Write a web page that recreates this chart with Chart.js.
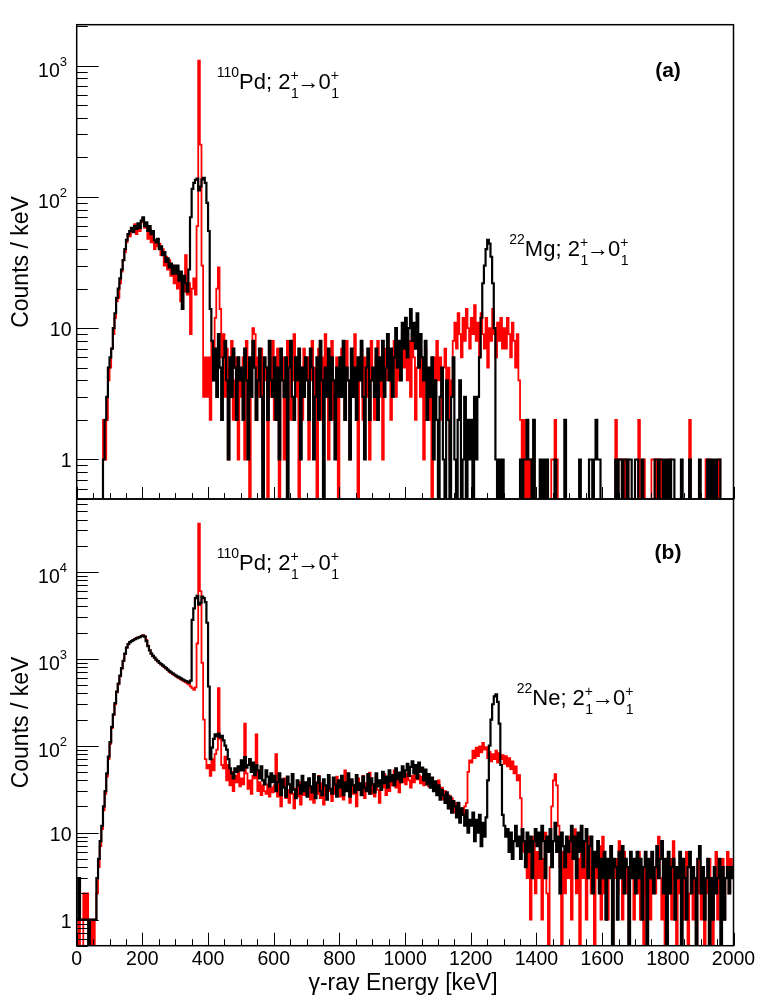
<!DOCTYPE html>
<html>
<head>
<meta charset="utf-8">
<script src="https://cdn.jsdelivr.net/npm/chart.js@4.4.1/dist/chart.umd.min.js"></script>
<style>
  body { margin: 0; background: #fff; }
  #wrap { position: relative; width: 772px; height: 1000px; }
  canvas { position: absolute; left: 0; }
  #panelA { top: 0; }
  #panelB { top: 490px; }
</style>
</head>
<body>
<div id="wrap">
  <canvas id="panelA" width="772" height="500"></canvas>
  <canvas id="panelB" width="772" height="510"></canvas>
</div>
<script>
// binning of the spectra (keV)
const binWidth = 5;
const eMin = 0;
const eMax = 2000;

// axis ticks
const xMajorTicks = [0, 200, 400, 600, 800, 1000, 1200, 1400, 1600, 1800, 2000];
const xMinorStep = 50;
const topDecades = [1, 10, 100, 1000];
const botDecades = [1, 10, 100, 1000, 10000];

// (a) top panel, counts / keV, one row = 100 keV
const topBlack = [
  0,0,0,0,0,0,0,0,0,0,0,0,0,0,0,0,1,2,3,5,
  6,7,10,13,17,20,24,28,33,40,47,52,55,58,54,60,57,63,58,66,
  70,60,64,55,60,52,55,47,45,48,40,42,36,38,32,34,29,31,26,30,
  26,30,23,27,14,25,22,19,28,70,115,128,135,138,112,120,136,140,128,90,
  55,14,8,4,7,3,9,5,2,6,8,4,1,6,3,7,5,2,6,4,
  5,2,7,4,1,6,3,8,5,2,4,7,3,0,6,5,2,8,4,3,
  6,2,5,1,7,4,3,6,0,5,8,3,2,6,4,7,1,5,3,6,
  4,2,7,5,1,3,6,2,8,4,0,5,3,7,2,6,4,1,5,3,
  6,3,8,2,5,4,1,7,3,5,2,6,4,8,3,1,5,7,2,4,
  5,3,7,2,6,4,8,3,5,9,4,7,3,6,10,5,8,4,11,7,
  12,6,10,14,8,11,7,13,5,9,6,4,8,2,5,3,6,1,4,2,
  0,3,5,1,0,4,2,0,3,6,1,0,2,4,0,1,3,0,2,1,
  2,0,3,1,3,6,12,22,30,40,47,44,35,22,10,1,0,1,0,1,
  0,0,0,0,0,0,0,0,0,0,1,0,1,1,2,1,1,0,2,0,
  0,0,1,0,1,0,1,0,0,0,0,1,0,0,0,0,0,2,0,0,
  0,0,0,0,0,0,1,0,0,0,0,0,1,1,0,1,2,1,1,0,
  0,0,0,0,0,0,0,0,1,0,1,1,0,1,1,0,1,1,0,0,
  1,1,0,0,1,0,0,0,0,0,0,0,1,1,0,1,1,0,1,0,
  1,0,1,1,0,0,0,0,1,0,0,0,0,1,0,0,0,0,0,1,
  0,0,0,0,1,0,1,0,1,0,1,1,0,0,0,0,0,0,0,0
];
const topRed = [
  0,0,0,0,0,0,0,0,0,0,0,0,0,0,0,0,2,1,2,4,
  5,7,9,12,16,17,22,27,33,38,45,52,50,58,56,62,52,60,55,64,
  68,58,62,48,57,45,52,40,47,42,44,36,40,30,35,28,33,25,30,22,
  27,20,25,16,23,19,36,18,22,9,20,24,18,60,1090,250,30,3,6,3,
  6,2,8,4,12,20,29,14,6,9,3,7,1,5,8,2,4,6,1,5,
  3,6,1,8,4,0,5,10,9,2,6,3,7,1,4,5,0,6,3,8,
  2,5,7,0,4,6,1,3,8,5,2,4,9,3,6,0,5,2,7,4,
  6,1,4,8,3,5,0,7,2,6,4,9,3,1,5,8,2,4,6,0,
  3,7,5,2,8,4,1,6,3,9,5,0,4,7,2,6,3,5,1,8,
  4,2,6,8,3,5,1,7,4,9,6,2,5,8,3,7,4,6,9,5,
  7,4,8,3,9,6,2,5,8,3,6,1,7,4,2,5,0,6,3,8,
  4,6,2,5,7,3,5,1,4,8,11,7,13,9,6,12,8,14,10,7,
  12,9,15,8,11,6,13,9,7,12,5,10,8,14,9,6,11,8,12,7,
  10,7,12,9,6,11,8,5,9,4,2,1,2,0,1,0,1,0,0,0,
  0,0,0,0,0,0,0,0,0,1,1,2,1,0,0,0,0,0,0,0,
  0,0,0,0,0,0,0,0,0,0,0,0,0,0,0,0,0,0,0,0,
  0,0,0,0,0,0,0,0,2,0,1,1,0,1,0,1,0,0,0,0,
  0,0,2,0,0,1,0,0,0,0,1,1,0,1,0,1,0,0,0,0,
  0,1,0,0,0,0,0,0,0,0,0,0,0,2,0,0,0,0,0,0,
  0,0,0,1,1,1,0,0,0,0,0,1,0,0,0,0,0,0,0,0
];

// (b) bottom panel, counts / keV, one row = 100 keV
const botBlack = [
  1,3,1,1,1,1,1,0,1,1,1,1,3,5,8,12,20,30,48,75,
  110,165,230,310,420,520,640,780,950,1150,1350,1480,1560,1600,1640,1680,1720,1750,1780,1820,
  1850,1800,1600,1400,1250,1150,1080,1030,980,940,900,870,840,810,780,750,720,700,680,660,
  640,625,610,595,580,565,555,545,530,560,2800,3800,5000,5300,4200,4400,5200,5000,4500,2600,
  480,70,95,120,135,128,138,125,130,115,100,90,70,55,48,42,55,50,58,52,
  68,52,74,56,60,70,50,64,46,60,52,42,58,40,36,52,44,34,48,38,
  45,30,38,48,27,41,33,26,44,36,29,47,31,25,40,35,28,45,30,38,
  26,42,34,29,47,25,37,44,30,27,41,35,24,46,32,28,43,36,26,40,
  33,45,27,38,30,48,26,41,35,29,46,31,37,27,44,33,30,47,28,42,
  36,29,48,34,40,31,50,37,44,33,52,39,46,35,55,41,49,38,58,44,
  52,62,45,57,66,48,60,42,64,50,56,40,53,36,47,33,43,30,39,27,
  35,24,31,27,22,29,19,26,17,23,20,15,22,13,19,16,12,18,10,14,
  12,17,8,14,10,16,7,13,9,15,40,100,200,300,370,390,320,180,60,16,
  12,9,11,6,10,5,8,12,7,9,5,11,8,4,10,6,9,3,8,11,
  7,10,5,12,8,3,9,6,11,4,8,13,6,9,2,10,7,4,9,6,
  8,12,5,9,3,10,6,12,4,8,11,3,7,9,2,6,4,8,2,5,
  3,6,1,5,3,7,0,5,4,1,6,3,7,2,5,4,0,6,3,5,
  2,6,3,5,1,4,6,0,5,3,6,2,4,7,3,5,8,2,5,0,
  6,2,4,5,1,4,3,6,0,5,3,1,4,6,2,4,3,0,5,7,
  2,4,1,3,5,0,3,1,4,2,3,5,0,4,1,3,4,2,4,3
];
const botRed = [
  0,1,0,0,2,1,2,1,0,1,0,1,2,4,7,11,18,28,44,70,
  105,160,225,300,410,510,630,770,940,1130,1340,1470,1560,1610,1650,1690,1730,1760,1790,1830,
  1870,1820,1650,1420,1260,1150,1070,1020,970,930,890,860,830,800,770,740,710,690,670,650,
  630,610,595,580,565,550,535,520,505,480,460,440,470,1500,36000,6000,900,200,70,55,
  60,45,70,52,80,90,460,120,60,55,75,40,60,35,50,30,45,38,52,34,
  42,36,180,48,32,40,28,45,42,135,30,38,27,35,30,28,36,26,33,29,
  35,80,26,38,20,34,42,25,31,22,36,28,19,32,26,38,21,33,27,35,
  27,40,24,33,22,38,28,45,25,37,21,34,27,42,30,23,36,28,44,31,
  26,39,24,52,30,36,22,40,28,35,20,42,31,27,45,25,37,30,49,28,
  36,26,44,31,22,40,33,47,27,38,30,44,35,52,33,41,29,46,38,50,
  36,48,40,33,45,38,50,41,46,37,44,35,48,40,34,42,36,30,38,32,
  40,28,33,24,30,22,27,19,25,17,22,18,21,15,19,16,20,22,50,68,
  64,88,72,95,76,98,84,108,90,96,72,85,66,80,70,88,64,82,70,78,
  62,76,58,72,54,66,48,58,40,46,25,10,6,8,3,7,1,5,9,2,
  6,3,8,1,5,10,2,0,4,20,40,47,35,12,4,0,6,2,8,3,
  9,1,6,11,2,5,0,7,3,8,1,5,9,2,4,0,6,3,7,1,
  9,2,5,1,4,7,0,3,5,2,8,3,1,6,2,4,0,5,3,1,
  4,2,6,1,3,0,5,2,4,1,6,3,2,5,9,3,1,4,0,3,
  2,5,1,8,3,0,4,2,5,1,3,6,0,2,4,1,3,0,5,2,
  1,4,0,3,2,5,1,0,3,6,1,4,2,5,1,3,6,2,5,4
];

const FONT = '"Liberation Sans", Arial, Helvetica, sans-serif';
// empty bins are sent below the axis minimum so the step drops to the frame
const emptyBinLevel = 0.1;

// histogram -> points at the left bin edges, plus the closing edge
function toHist(counts) {
  const pts = counts.map((c, i) => ({ x: eMin + i * binWidth, y: c > 0 ? c : emptyBinLevel }));
  const last = counts[counts.length - 1];
  pts.push({ x: eMin + counts.length * binWidth, y: last > 0 ? last : emptyBinLevel });
  return pts;
}

// "110Pd; 2+1 -> 0+1" style label
function drawTransition(ctx, mass, el, x, y) {
  ctx.textAlign = 'left';
  ctx.textBaseline = 'alphabetic';
  const big = '22px ' + FONT, small = '14px ' + FONT;
  ctx.font = small;
  ctx.fillText(mass, x, y - 12.5);
  x += ctx.measureText(mass).width;
  ctx.font = big;
  const s = el + '; 2';
  ctx.fillText(s, x, y);
  x += ctx.measureText(s).width;
  const stack = () => {
    ctx.font = small;
    ctx.fillText('+', x, y - 9);
    ctx.fillText('1', x + 0.5, y + 9);
    x += ctx.measureText('+').width + 1;
    ctx.font = big;
  };
  stack();
  x -= 2;
  ctx.fillText('\u2192', x, y);
  x += ctx.measureText('\u2192').width - 1;
  ctx.fillText('0', x, y);
  x += ctx.measureText('0').width;
  stack();
}

function rootAxes(cfg) {
  return {
    id: 'rootAxes',
    afterDraw(chart) {
      const { ctx, chartArea: a } = chart;
      const xs = chart.scales.x, ys = chart.scales.y;
      ctx.save();
      ctx.fillStyle = '#000';
      ctx.strokeStyle = '#000';

      // x ticks (inside, from the bottom edge)
      ctx.lineWidth = 1;
      ctx.beginPath();
      for (let e = eMin; e <= eMax; e += xMinorStep) {
        const px = Math.round(xs.getPixelForValue(e)) + 0.5;
        const len = xMajorTicks.includes(e) ? cfg.xMajor : cfg.xMajor / 2;
        ctx.moveTo(px, a.bottom);
        ctx.lineTo(px, a.bottom - len);
      }
      // y ticks (log, inside, from the left edge)
      const lo = Math.floor(Math.log10(ys.min)), hi = Math.ceil(Math.log10(ys.max));
      for (let d = lo; d <= hi; d++) {
        for (let m = 1; m <= 9; m++) {
          const v = m * Math.pow(10, d);
          if (v < ys.min || v > ys.max) continue;
          const py = Math.round(ys.getPixelForValue(v)) + 0.5;
          const len = m === 1 ? 22 : 11;
          ctx.moveTo(a.left, py);
          ctx.lineTo(a.left + len, py);
        }
      }
      ctx.stroke();

      // frame
      ctx.lineWidth = 1.5;
      ctx.strokeRect(a.left, a.top, a.right - a.left, a.bottom - a.top);

      // y tick labels
      cfg.decades.forEach(v => {
        const py = ys.getPixelForValue(v);
        const exp = Math.round(Math.log10(v));
        if (exp < 2) {
          ctx.font = '19.5px ' + FONT;
          ctx.textAlign = 'right';
          ctx.textBaseline = 'alphabetic';
          ctx.fillText(String(v), 71.5, py + 8);
        } else {
          ctx.font = '13px ' + FONT;
          const ws = ctx.measureText(String(exp)).width;
          ctx.textAlign = 'left';
          ctx.textBaseline = 'alphabetic';
          ctx.fillText(String(exp), 67 - ws, py + 0.5);
          ctx.font = '19.5px ' + FONT;
          ctx.textAlign = 'right';
          ctx.fillText('10', 67 - ws, py + 11);
        }
      });

      // y title
      ctx.save();
      ctx.translate(28, cfg.yTitleY);
      ctx.rotate(-Math.PI / 2);
      ctx.font = '23px ' + FONT;
      ctx.textAlign = 'center';
      ctx.textBaseline = 'alphabetic';
      ctx.fillText('Counts / keV', 0, 0);
      ctx.restore();

      // x tick labels + x title (bottom panel only)
      if (cfg.xLabels) {
        ctx.font = '19.5px ' + FONT;
        ctx.textAlign = 'center';
        ctx.textBaseline = 'alphabetic';
        xMajorTicks.forEach(e => {
          ctx.fillText(String(e), xs.getPixelForValue(e), a.bottom + 19.5);
        });
        ctx.font = '23px ' + FONT;
        ctx.fillText('\u03b3-ray Energy [keV]', 403, a.bottom + 44.5);
      }

      // annotations
      ctx.fillStyle = '#000';
      cfg.notes.forEach(n => drawTransition(ctx, n.mass, n.el, n.x, n.y));
      ctx.font = 'bold 21px ' + FONT;
      ctx.textAlign = 'center';
      ctx.textBaseline = 'alphabetic';
      ctx.fillText(cfg.tag, 668, cfg.tagY);
      ctx.restore();
    }
  };
}

function makePanel(id, black, red, yMax, padding, cfg) {
  return new Chart(document.getElementById(id), {
    type: 'line',
    data: {
      datasets: [
        { label: 'black', data: toHist(black), borderColor: '#000000', borderWidth: 2.2,
          stepped: true, pointRadius: 0, fill: false, clip: 0 },
        { label: 'red', data: toHist(red), borderColor: '#ff0000', borderWidth: 1.8,
          stepped: true, pointRadius: 0, fill: false, clip: 0 }
      ]
    },
    options: {
      responsive: false,
      animation: false,
      events: [],
      layout: { padding: padding },
      scales: {
        x: { type: 'linear', min: eMin, max: eMax, display: false },
        y: { type: 'logarithmic', min: 0.5, max: yMax, display: false }
      },
      plugins: { legend: { display: false }, tooltip: { enabled: false } }
    },
    plugins: [rootAxes(cfg)]
  });
}

makePanel('panelA', topBlack, topRed, 2050,
  { left: 76.7, right: 38.5, top: 24.7, bottom: 1 },
  { xMajor: 12, decades: topDecades, yTitleY: 262, xLabels: false, tag: '(a)', tagY: 76.5,
    notes: [ { mass: '110', el: 'Pd', x: 216.7, y: 89.3 }, { mass: '22', el: 'Mg', x: 509.3, y: 256 } ] });

makePanel('panelB', botBlack, botRed, 69000,
  { left: 76.7, right: 38.5, top: 9, bottom: 54.3 },
  { xMajor: 13, decades: botDecades, yTitleY: 232.5, xLabels: true, tag: '(b)', tagY: 69,
    notes: [ { mass: '110', el: 'Pd', x: 216.7, y: 80 }, { mass: '22', el: 'Ne', x: 516.7, y: 215 } ] });
</script>
</body>
</html>
